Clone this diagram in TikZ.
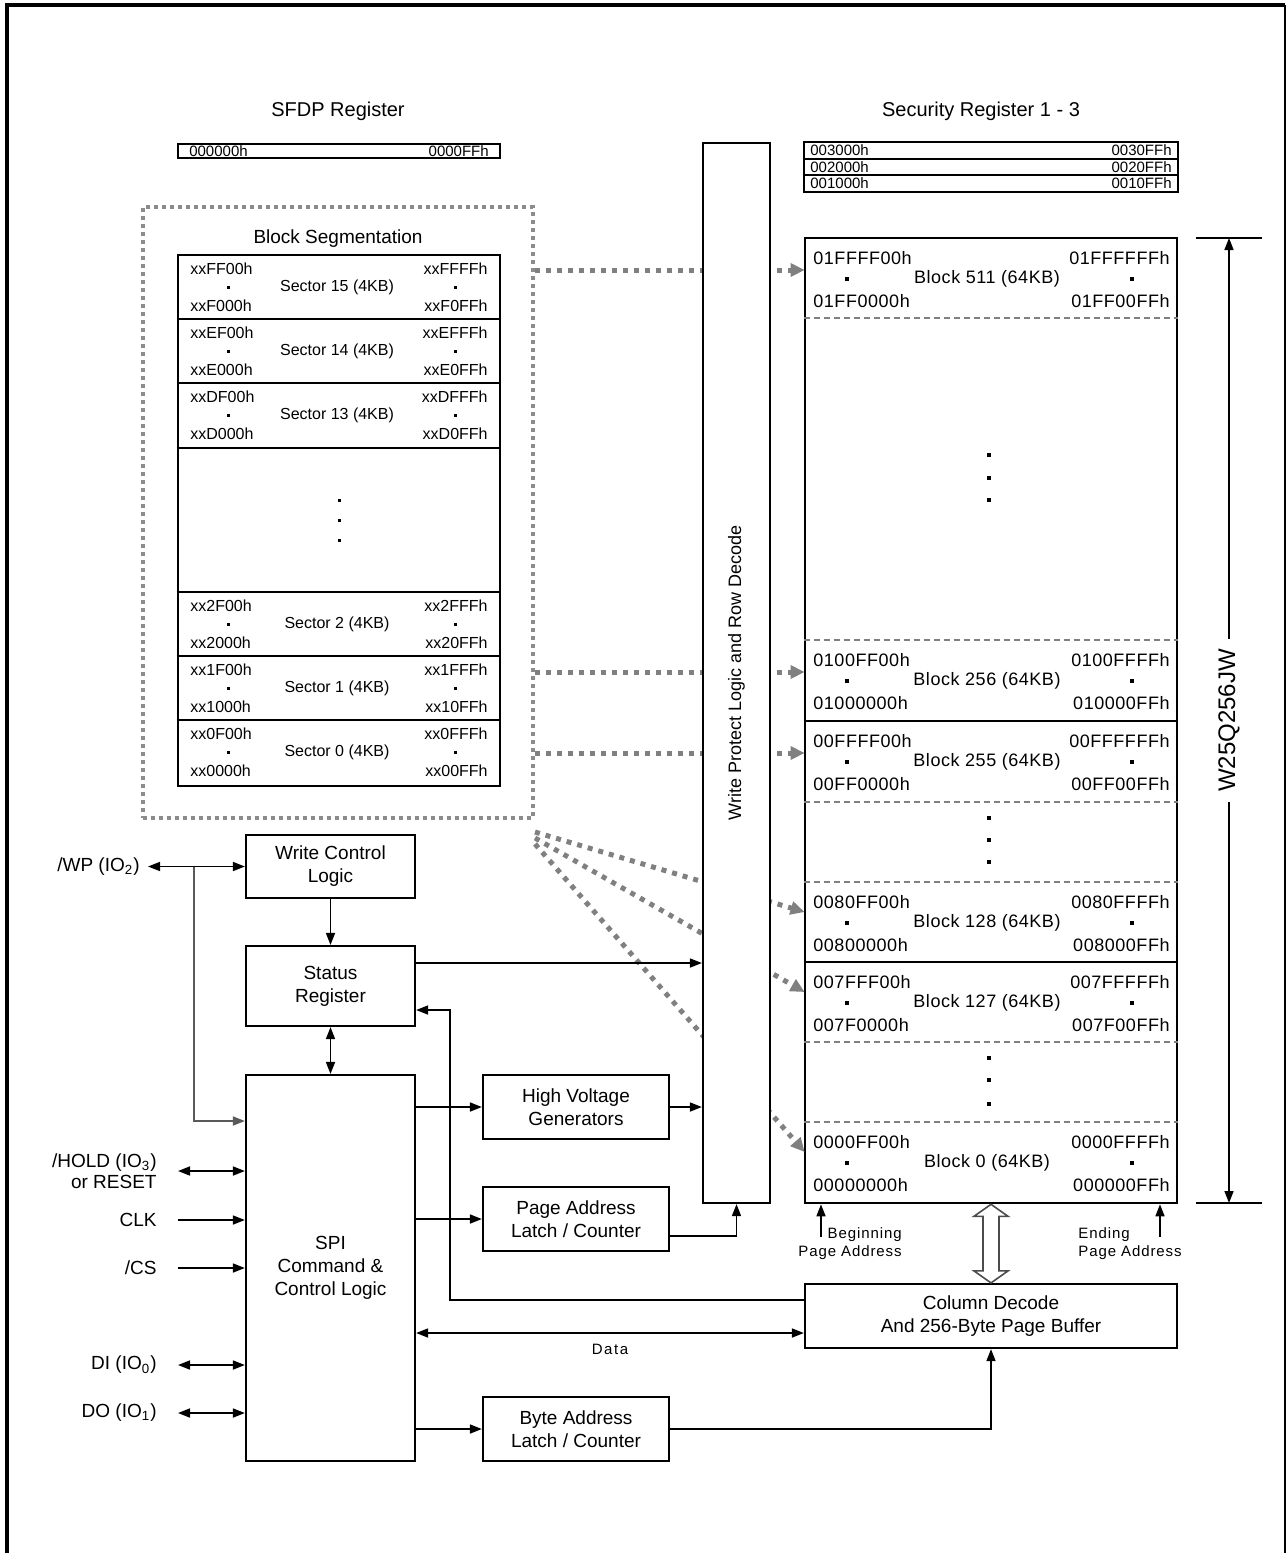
\documentclass[tikz,border=0pt]{standalone}
\usepackage{fontspec}
\setmainfont{Liberation Sans}
\usetikzlibrary{arrows.meta,calc}

\definecolor{dotgray}{RGB}{128,128,128}
\definecolor{boxgray}{RGB}{140,140,140}

\begin{document}
\begin{tikzpicture}[x=0.5pt, y=-0.5pt,
    box_node/.style={draw, line width=1.1pt, fill=white, align=center, inner sep=0pt, font=\fontsize{9.5}{11.5}\selectfont},
    frame_node/.style={draw, line width=1.3pt, inner sep=0pt},
    title_text/.style={inner sep=0pt, font=\fontsize{10}{12}\selectfont},
    sec_text/.style={inner sep=0pt, font=\fontsize{8}{9}\selectfont},
    blk_text/.style={inner sep=0pt, font=\fontsize{9}{10}\selectfont\addfontfeature{LetterSpace=3}},
    reg_text/.style={inner sep=0pt, font=\fontsize{7.5}{8}\selectfont},
    pin_label/.style={anchor=east, align=right, inner sep=0pt, font=\fontsize{9.5}{10.5}\selectfont},
    addr_label/.style={inner sep=0pt, font=\fontsize{7.5}{9}\selectfont\addfontfeature{LetterSpace=6}},
    wire/.style={line width=0.8pt, -{Triangle[length=6pt,width=4.5pt]}},
    bus/.style={line width=0.8pt, {Triangle[length=6pt,width=4.5pt]}-{Triangle[length=6pt,width=4.5pt]}},
    seg_arrow/.style={dotgray, line width=2.5pt, dash pattern=on 2.5pt off 3pt, -{Triangle[length=7pt,width=6.5pt]}},
  ]
    \useasboundingbox (0,0) rectangle (1286,1553);
    \draw[line width=1.8pt] (7,1553) -- (7,5) -- (1285,5);
    \draw[line width=1pt] (1285,5) -- (1285,1553);

    % registers on top
    \node[title_text] (sfdp_title) at (338,111) {SFDP Register};
    \node[frame_node, line width=1.1pt, minimum width=161pt, minimum height=7pt] (sfdp) at (339,151) {};
    \node[reg_text, anchor=west] (sfdp_lo) at ([xshift=6pt]sfdp.west) {000000h};
    \node[reg_text, anchor=east] (sfdp_hi) at ([xshift=-6pt]sfdp.east) {0000FFh};

    \node[title_text] (sec_title) at (981,111) {Security Register 1 - 3};
    \node[frame_node, line width=1.1pt, minimum width=187pt, minimum height=25pt] (secreg) at (991,167) {};
    \foreach \y in {159,175}
        \draw[line width=0.8pt] (secreg.west |- 0,\y) -- (secreg.east |- 0,\y);
    \foreach \i/\n in {0/3,1/2,2/1} {
        \node[reg_text, anchor=west] (sr\n_lo) at (810,150.5+16.5*\i) {00\n000h};
        \node[reg_text, anchor=east] (sr\n_hi) at (1172,150.5+16.5*\i) {00\n0FFh};
    }

    % block segmentation
    \node[draw=boxgray, line width=2pt, dash pattern=on 2pt off 2pt, minimum width=195pt, minimum height=305.5pt, inner sep=0pt] (seg) at (338,512.5) {};
    \node[title_text, font=\fontsize{9.5}{11}\selectfont] (seg_title) at (338,239) {Block Segmentation};
    \node[frame_node, minimum width=161pt, minimum height=265.5pt] (sect) at (339,520.5) {};
    \foreach \y in {319,383,448,592,656,720}
        \draw[line width=0.8pt] (sect.west |- 0,\y) -- (sect.east |- 0,\y);
    \foreach \y/\n/\hx in {255/15/F,319/14/E,383/13/D,592/2/2,656/1/1,720/0/0} {
        \node[sec_text, anchor=west] (s\n_tl) at (190,\y+14) {xx\hx F00h};
        \node[sec_text, anchor=east] (s\n_tr) at (488,\y+14) {xx\hx FFFh};
        \node[sec_text, anchor=west] (s\n_bl) at (190,\y+51) {xx\hx 000h};
        \node[sec_text, anchor=east] (s\n_br) at (488,\y+51) {xx\hx 0FFh};
        \node[sec_text] (s\n_name) at (337,\y+32) {Sector \n\ (4KB)};
        \fill (228,\y+32) +(-1.5,-1.5) rectangle +(1.5,1.5);
        \fill (455,\y+32) +(-1.5,-1.5) rectangle +(1.5,1.5);
    }
    \foreach \y in {500,520,540}
        \fill (339,\y) +(-1.5,-1.5) rectangle +(1.5,1.5);

    % memory array
    \node[frame_node, minimum width=186pt, minimum height=482.5pt] (arr) at (991,720.5) {};
    \foreach \y in {318,640,802,882,1042,1122}
        \draw[dotgray, line width=0.6pt, dash pattern=on 3pt off 2pt] (arr.west |- 0,\y) -- (arr.east |- 0,\y);
    \foreach \y in {721,962}
        \draw[line width=0.6pt] (arr.west |- 0,\y) -- (arr.east |- 0,\y);
    \foreach \y/\n/\p in {238/511/01FF,640/256/0100,721/255/00FF,882/128/0080,962/127/007F,1122/0/0000} {
        \node[inner sep=0pt, minimum width=186pt, minimum height=40pt] (b\n) at (991,\y+40) {};
        \node[blk_text, anchor=west] (b\n_tl) at (813,\y+20) {\p FF00h};
        \node[blk_text, anchor=east] (b\n_tr) at (1170,\y+20) {\p FFFFh};
        \node[blk_text, anchor=west] (b\n_bl) at (813,\y+63) {\p 0000h};
        \node[blk_text, anchor=east] (b\n_br) at (1170,\y+63) {\p 00FFh};
        \node[blk_text] (b\n_name) at (987,\y+41) {Block \n\ (64KB)};
        \fill (847,\y+41) +(-2,-2) rectangle +(2,2);
        \fill (1132,\y+41) +(-2,-2) rectangle +(2,2);
    }
    \foreach \y in {455,478,500,818,840,862,1058,1080,1104}
        \fill (989,\y) +(-2,-2) rectangle +(2,2);

    % dotted arrows into the array
    \foreach \n in {511,256,255} {
        \coordinate (t\n) at ([yshift=4pt]b\n.west);
        \draw[seg_arrow] (seg.east |- t\n) -- (t\n);
    }
    \foreach \n/\s in {128/6,127/9,0/12} {
        \coordinate (t\n) at ([yshift=5pt]b\n.west);
        \draw[seg_arrow] ([yshift=-\s pt]seg.south east) -- (t\n);
    }

    % write protect and row decode
    \node[box_node, minimum width=33.5pt, minimum height=530pt] (wp) at (736.5,673) {};
    \node[rotate=90, inner sep=0pt, font=\fontsize{9}{10}\selectfont] (wp_text) at (wp) {Write Protect Logic and Row Decode};

    % size mark
    \coordinate (dim_top) at (1229,238);
    \coordinate (dim_bot) at (1229,1203);
    \draw[line width=0.8pt] (dim_top) +(-33,0) -- +(33,0);
    \draw[line width=0.8pt] (dim_bot) +(-33,0) -- +(33,0);
    \draw[bus] (dim_top) -- (dim_bot) node[midway, rotate=90, fill=white, inner sep=5pt, font=\fontsize{12}{14}\selectfont] (dim_lbl) {W25Q256JW};

    % logic blocks
    \node[box_node, minimum width=84.5pt, minimum height=31.5pt] (wcl) at (330.5,866.5) {Write Control\\Logic};
    \node[box_node, minimum width=84.5pt, minimum height=40pt] (sreg) at (330.5,986) {Status\\Register};
    \node[box_node, minimum width=84.5pt, minimum height=193pt] (spi) at (330.5,1268) {SPI\\Command \&\\Control Logic};
    \node[box_node, minimum width=93pt, minimum height=32pt] (hvg) at (576,1107) {High Voltage\\Generators};
    \node[box_node, minimum width=93pt, minimum height=32pt] (pal) at (576,1219) {Page Address\\Latch / Counter};
    \node[box_node, minimum width=93pt, minimum height=32pt] (bal) at (576,1429) {Byte Address\\Latch / Counter};
    \node[box_node, minimum width=186pt, minimum height=32pt] (col) at (991,1316) {Column Decode\\And 256-Byte Page Buffer};

    % pins
    \node[pin_label] (wp_pin) at (140,866.5) {/WP (IO\textsubscript{2})};
    \node[pin_label] (hold_pin) at (157,1171) {/HOLD (IO\textsubscript{3})\\or RESET};
    \node[pin_label] (clk_pin) at (157,1220) {CLK};
    \node[pin_label] (cs_pin) at (157,1268) {/CS};
    \node[pin_label] (di_pin) at (157,1365) {DI (IO\textsubscript{0})};
    \node[pin_label] (do_pin) at (157,1413) {DO (IO\textsubscript{1})};

    \coordinate (wp_jn) at (194,866.5);
    \draw[bus] ([xshift=4pt]wp_pin.east) -- (wcl.west);
    \draw[wire, dotgray!70!black] (wp_jn) |- (spi.west |- 0,1121);
    \draw[bus] ([xshift=10.5pt]hold_pin.east) -- (spi.west |- hold_pin.east);
    \draw[wire] ([xshift=10.5pt]clk_pin.east) -- (spi.west |- clk_pin.east);
    \draw[wire] ([xshift=10.5pt]cs_pin.east) -- (spi.west |- cs_pin.east);
    \draw[bus] ([xshift=10.5pt]di_pin.east) -- (spi.west |- di_pin.east);
    \draw[bus] ([xshift=10.5pt]do_pin.east) -- (spi.west |- do_pin.east);

    % internal connections
    \draw[wire] (wcl) -- (sreg);
    \draw[bus] (sreg) -- (spi);
    \coordinate (sr_out) at ([yshift=11.5pt]sreg.east);
    \draw[wire] (sr_out) -- (sr_out -| wp.west);
    \coordinate (col_fb) at ([yshift=8pt]col.west);
    \coordinate (sr_in) at ([yshift=-12pt]sreg.east);
    \draw[wire] (col_fb) -| ($(sr_in)+(34,0)$) -- (sr_in);
    \draw[wire] (spi.east |- hvg) -- (hvg);
    \draw[wire] (hvg) -- (hvg -| wp.west);
    \draw[wire] (spi.east |- pal) -- (pal);
    \coordinate (pal_out) at ([yshift=-8.5pt]pal.east);
    \draw[wire] (pal_out) -| (wp.south);
    \coordinate (data_r) at ([yshift=-8.5pt]col.west);
    \draw[bus] (data_r -| spi.east) -- (data_r) node[midway, below=5pt, addr_label, font=\fontsize{7.5}{9}\selectfont\addfontfeature{LetterSpace=10}] (data_lbl) {Data};
    \draw[wire] (spi.east |- bal) -- (bal);
    \draw[wire] (bal) -| (col.south);

    % page buffer bus
    \coordinate (bus_top) at (arr.south);
    \coordinate (bus_bot) at (col.north);
    \draw[line width=0.8pt, black!70, fill=white] (bus_top) -- ++(17,12) -- ++(-9,0) -- ($(bus_bot)+(8,-12)$) -- ++(9,0) -- (bus_bot) -- ++(-17,-12) -- ++(9,0) -- ($(bus_top)+(-8,12)$) -- ++(-9,0) -- cycle;

    % page address marks
    \coordinate (bpa) at (821,1237);
    \draw[wire] (bpa) -- (bpa |- arr.south);
    \node[addr_label, anchor=east, align=right] (bpa_lbl) at (902,1244) {Beginning\\Page Address};
    \coordinate (epa) at (1160,1237);
    \draw[wire] (epa) -- (epa |- arr.south);
    \node[addr_label, anchor=west, align=left] (epa_lbl) at (1078,1244) {Ending\\Page Address};
\end{tikzpicture}
\end{document}
